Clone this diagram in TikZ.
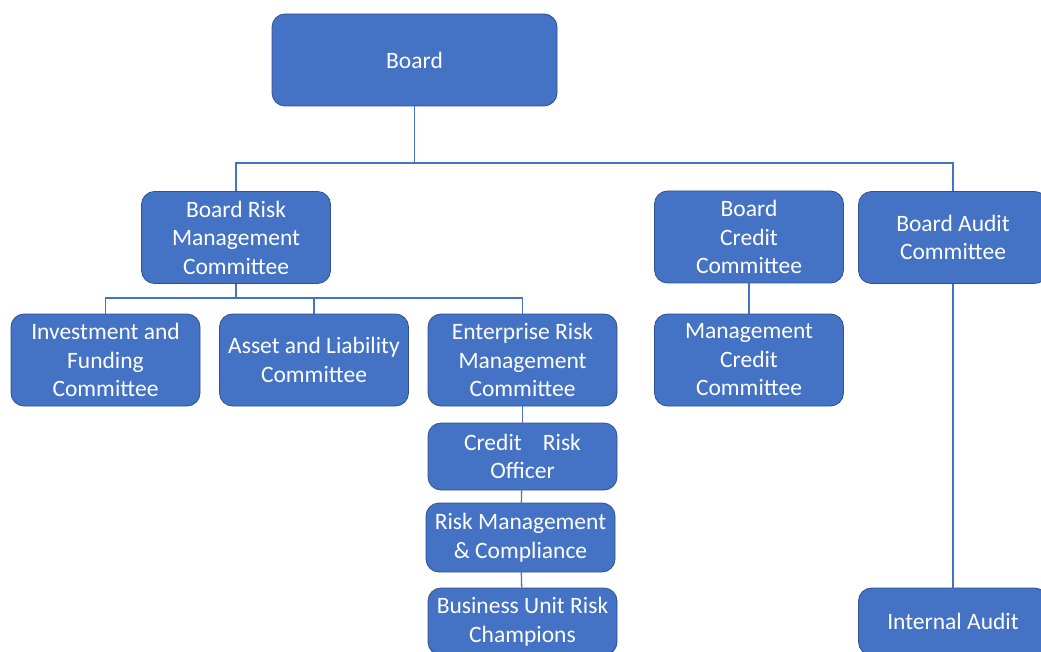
\documentclass[tikz,border=0pt]{standalone}
\usepackage{fontspec}
\setmainfont{Carlito}
\usepackage{xcolor}
\definecolor{orgblue}{HTML}{4472C4}
\definecolor{orgedge}{HTML}{2F528F}

\begin{document}
\begin{tikzpicture}[x=1pt, y=-1pt,
  unit/.style={draw=orgedge, line width=0.8pt, rectangle, rounded corners=13pt, fill=orgblue, text=white, align=center, minimum width=189pt, minimum height=92pt, inner sep=2pt, font=\fontsize{23.5}{28.5}\selectfont},
  link/.style={draw=orgblue, line width=1.3pt}]

\useasboundingbox (0,0) rectangle (1041,652);

% Nodes
\node[unit, minimum width=285pt] (board) at (414.5,60) {Board};
\node[unit] (brmc) at (236,237.5) {Board Risk\\Management\\Committee};
\node[unit] (bcc) at (749,237) {Board\\Credit\\Committee};
\node[unit] (bac) at (953,237.5) {Board Audit\\Committee};
\node[unit] (invest) at (105.5,360) {Investment and\\Funding\\Committee};
\node[unit] (alco) at (314,360) {Asset and Liability\\Committee};
\node[unit] (ermc) at (522.5,360) {Enterprise Risk\\Management\\Committee};
\node[unit] (mcc) at (749,360) {Management\\Credit\\Committee};
\node[unit, minimum height=67pt] (cro) at (522.5,456.5) {Credit\hspace{0.9em}Risk\\Officer};
\node[unit, minimum height=69pt] (rmc) at (520.5,537.5) {Risk Management\\\& Compliance};
\node[unit, minimum height=67pt] (burc) at (522.5,621.5) {Business Unit Risk\\Champions};
\node[unit, minimum height=67pt] (audit) at (953,621.5) {Internal Audit};

% Connectors
\coordinate (topbus) at (414.5,163);
\coordinate (riskbus) at (236,298);
\draw[link] (board) -- (topbus);
\draw[link] (topbus) -| (brmc);
\draw[link] (topbus) -| (bac);
\draw[link] (brmc) -- (riskbus);
\draw[link] (riskbus) -| (invest.north);
\draw[link] (riskbus) -| (alco.north);
\draw[link] (riskbus) -| (ermc.north);
\draw[link] (ermc) -- (cro);
\draw[link] (cro) -- (rmc);
\draw[link] (rmc) -- (burc);
\draw[link] (bcc) -- (mcc);
\draw[link] (bac) -- (audit);

\end{tikzpicture}
\end{document}
